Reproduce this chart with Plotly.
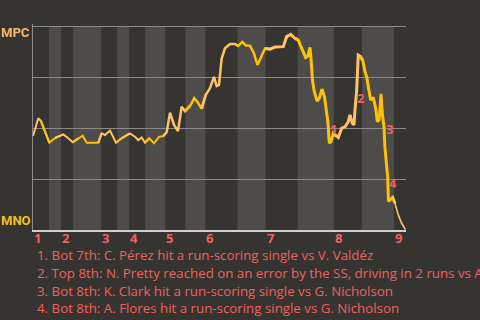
import plotly.graph_objects as go

# Half-inning boundaries (plate appearance index)
half_bounds = [0, 4, 7, 10, 17, 21, 24, 28, 33, 38, 43, 51, 58, 66, 75, 82, 90, 93]
inning_labels = ["1", "2", "3", "4", "5", "6", "7", "8", "9"]

# Win probability for MPC (0 = MNO wins, 1 = MPC wins)
play_x = [0, 1.32, 1.99, 4.06, 5.48, 7.55, 8.80, 9.90, 11.29, 12.39, 13.39, 16.28,
          17.13, 17.95, 19.20, 20.69, 22.11, 24.18, 25.43, 26.25, 27.10, 27.92, 28.99,
          30.17, 31.41, 32.49, 33.33, 34.16, 35.16, 36.15, 37.07, 37.90, 39.14, 40.21,
          40.96, 42.06, 43.06, 44.13, 45.13, 45.80, 46.37, 47.05, 47.87, 49.12, 50.36,
          51.18, 52.18, 53.10, 54.10, 55.10, 55.97, 57.02, 57.84, 59.09, 60.33, 62.40,
          63.25, 64.25, 65.32, 66.14, 66.99, 67.99, 68.56, 69.06, 69.31, 69.68, 70.06,
          70.81, 71.38, 72.05, 72.68, 73.05, 73.55, 73.87, 74.30, 74.87, 75.54, 76.12,
          76.96, 77.79, 78.61, 79.03, 79.61, 80.03, 80.28, 80.70, 81.10, 81.53, 82.20,
          82.77, 83.20, 83.60, 84.19, 84.84, 85.52, 85.84, 86.26, 86.51, 86.76, 87.09,
          87.51, 87.76, 88.01, 88.43, 88.63, 89.18, 89.68, 90.25, 91.07, 91.92, 92.87]
win_prob = [0.461, 0.548, 0.534, 0.428, 0.451, 0.469, 0.450, 0.430, 0.450, 0.462, 0.428, 0.428,
            0.474, 0.466, 0.487, 0.428, 0.450, 0.474, 0.457, 0.441, 0.454, 0.428, 0.450,
            0.425, 0.457, 0.461, 0.479, 0.575, 0.515, 0.485, 0.604, 0.583, 0.608, 0.646,
            0.629, 0.595, 0.662, 0.695, 0.751, 0.706, 0.711, 0.842, 0.891, 0.912, 0.912,
            0.902, 0.922, 0.905, 0.904, 0.866, 0.809, 0.851, 0.890, 0.887, 0.897, 0.899,
            0.948, 0.959, 0.940, 0.931, 0.891, 0.846, 0.853, 0.895, 0.843, 0.735, 0.686,
            0.632, 0.645, 0.691, 0.653, 0.598, 0.525, 0.426, 0.433, 0.474, 0.461, 0.454,
            0.499, 0.506, 0.531, 0.564, 0.523, 0.515, 0.588, 0.686, 0.858, 0.853, 0.833,
            0.776, 0.751, 0.702, 0.637, 0.650, 0.588, 0.531, 0.539, 0.588, 0.667, 0.572,
            0.506, 0.400, 0.335, 0.261, 0.140, 0.150, 0.160, 0.131, 0.074, 0.033, 0.002]

half_widths = [2, 2, 2, 2, 2, 2, 2, 2, 2.5, 2.5, 2.5, 2.5, 3, 3, 3, 3, 1.6]

event_x = [74.8, 81.8, 88.8, 89.8]
event_y = [0.495, 0.646, 0.494, 0.229]
event_labels = ["1", "2", "3", "4"]
event_notes = [
    "1. Bot 7th: C. Pérez hit a run-scoring single vs V. Valdéz",
    "2. Top 8th: N. Pretty reached on an error by the SS, driving in 2 runs vs A.",
    "3. Bot 8th: K. Clark hit a run-scoring single vs G. Nicholson",
    "4. Bot 8th: A. Flores hit a run-scoring single vs G. Nicholson",
]

BG = "#363430"
BAND = "#4e4c4a"
TOP_COLOR = "#ffc266"
BOT_COLOR = "#ffc107"
RED = "#f0605e"
FONT = "Open Sans"
TEAM_FONT = "Roboto"

fig = go.Figure()

shapes = []
for i in range(len(half_bounds) - 1):
    if i % 2 == 1:
        shapes.append(dict(type="rect", xref="x", yref="y",
                           x0=half_bounds[i], x1=half_bounds[i + 1], y0=0, y1=1,
                           fillcolor=BAND, line=dict(width=0), layer="below"))

for i in range(len(half_bounds) - 1):
    a, b = half_bounds[i], half_bounds[i + 1]
    idx = [j for j, x in enumerate(play_x) if a <= x < b]
    if not idx:
        continue
    if idx[-1] + 1 < len(play_x):
        idx.append(idx[-1] + 1)
    if i > 0 and idx[0] > 0:
        idx.insert(0, idx[0] - 1)
    fig.add_trace(go.Scatter(
        x=[play_x[j] for j in idx], y=[win_prob[j] for j in idx],
        mode="lines", line=dict(color=TOP_COLOR if i % 2 == 0 else BOT_COLOR,
                                width=half_widths[i]),
        hoverinfo="skip", showlegend=False))

annotations = []
for k, lab in enumerate(inning_labels):
    annotations.append(dict(x=half_bounds[2 * k], y=-0.039, xref="x", yref="paper",
                            text="<b>%s</b>" % lab, showarrow=False, xanchor="left",
                            xshift=-1, yanchor="middle",
                            font=dict(family=FONT, size=13, color=RED)))
for ex, ey, lab in zip(event_x, event_y, event_labels):
    annotations.append(dict(x=ex, y=ey, xref="x", yref="y", text="<b>%s</b>" % lab,
                            showarrow=False, xanchor="center", yanchor="middle",
                            font=dict(family=FONT, size=13, color=RED)))
for k, note in enumerate(event_notes):
    annotations.append(dict(x=0.005, y=-0.12 - k * 0.087, xref="paper", yref="paper",
                            text=note, showarrow=False, xanchor="left", yanchor="middle",
                            font=dict(family=FONT, size=13.3, color=RED)))
annotations.append(dict(x=-0.0456, y=0.961, xref="paper", yref="paper", text="<b>MPC</b>",
                        showarrow=False, xanchor="center", yanchor="middle",
                        font=dict(family=TEAM_FONT, size=13, color="#f5b764")))
annotations.append(dict(x=-0.0456, y=0.044, xref="paper", yref="paper", text="<b>MNO</b>",
                        showarrow=False, xanchor="center", yanchor="middle",
                        font=dict(family=TEAM_FONT, size=13, color="#f2c01a")))

fig.update_layout(
    width=480, height=320,
    margin=dict(l=33, r=74, t=24, b=90),
    paper_bgcolor=BG, plot_bgcolor=BG,
    shapes=shapes, annotations=annotations,
    xaxis=dict(range=[0, 93], showgrid=False, zeroline=False, showticklabels=False,
               showline=True, linecolor="#d0d0d0", linewidth=1.5, ticks=""),
    yaxis=dict(range=[0, 1.01], tickvals=[0, 0.25, 0.5, 0.75, 1], showgrid=True,
               gridcolor="#8a8a8a", gridwidth=1, zeroline=False, showticklabels=False,
               showline=True, linecolor="#8a8a8a", linewidth=1, ticks=""),
)

fig.write_html("out.html", config={"displayModeBar": False})
